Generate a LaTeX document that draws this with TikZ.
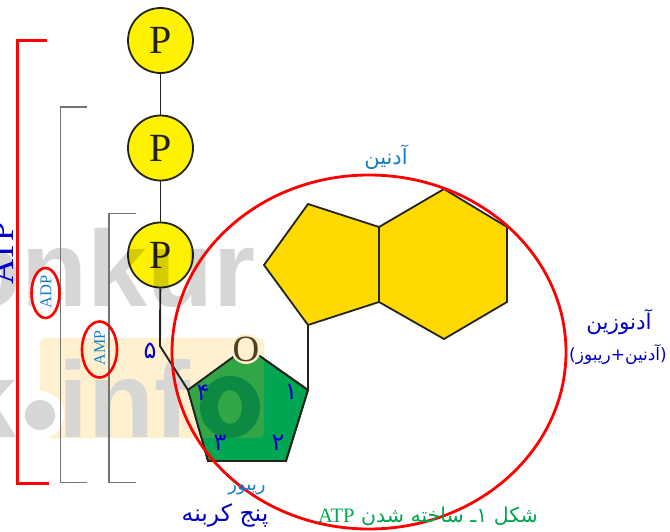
\documentclass[tikz,border=0pt]{standalone}
\usepackage{fontspec}
\setmainfont{Liberation Serif}
\setsansfont{Liberation Sans}
\newfontfamily\fa[Script=Arabic]{DejaVu Sans}
\TeXXeTstate=1
\definecolor{wmgray}{RGB}{214,214,212}
\definecolor{wmyellow}{RGB}{255,241,208}
\definecolor{navyblue}{RGB}{0,0,200}
\definecolor{capblue}{RGB}{20,125,195}
\definecolor{capgreen}{RGB}{0,166,81}
\definecolor{sugar}{RGB}{0,166,81}
\definecolor{sugartint}{RGB}{50,165,70}
\definecolor{sugardark}{RGB}{12,138,68}
\definecolor{base}{RGB}{255,217,0}
\definecolor{phos}{RGB}{255,242,0}
\definecolor{ringline}{RGB}{35,35,30}
\tikzset{
  x=1pt,y=-1pt,
  brk/.style={draw=black!55,line width=1.6pt},
  redbrk/.style={draw=red,line width=2.4pt},
  ring/.style={draw=ringline,line width=1.8pt,line join=miter},
  link/.style={draw=ringline,line width=1.9pt},
  phosnode/.style={circle,draw=ringline,fill=phos,line width=1.8pt,minimum size=65pt,inner sep=0pt,text=ringline,font=\fontsize{40}{40}\selectfont},
  redell/.style={draw=red,line width=2.6pt},
  num/.style={text=navyblue,font=\fa\fontsize{24}{24}\selectfont,inner sep=0pt},
  wm/.style={text=wmgray,font=\sffamily\bfseries\fontsize{108}{108}\selectfont,inner sep=0pt}
}
\begin{document}
\begin{tikzpicture}
\useasboundingbox (0,0) rectangle (670,531);
% watermark under the drawing
\fill[wmyellow,rounded corners=6pt] (40,338) rectangle (264,438);
\node[wm,anchor=base east] (wmk) at (17,437) {k};
\fill[white] (40,415) circle (24);
\fill[wmgray] (40,415) circle (15);
\node[wm,anchor=base west] (wm2) at (58,437) {info};
% sugar
\coordinate (s1) at (308,390);
\coordinate (s2) at (286,461);
\coordinate (s3) at (208,461);
\coordinate (s4) at (188,390);
\coordinate (so) at (247,347);
\coordinate (bend) at (160,346);
\filldraw[ring,fill=sugar] (so) -- (s1) -- (s2) -- (s3) -- (s4) -- cycle;
\begin{scope}
\clip (so) -- (s1) -- (s2) -- (s3) -- (s4) -- cycle;
\fill[sugartint,rounded corners=6pt] (40,338) rectangle (264,438);
\fill[even odd rule,fill=sugardark] (230,407) ellipse (30 and 31) (230,407) ellipse (12 and 17);
\end{scope}
\draw[ring] (so) -- (s1) -- (s2) -- (s3) -- (s4) -- cycle;
\fill[wmyellow] (246,349) circle (15);
\node[text={rgb,255:red,80;green,65;blue,30},font=\fontsize{37}{37}\selectfont,inner sep=0pt] (otxt) at (246,349) {O};
% phosphates
\node[phosnode] (p1) at (160.5,40.5) {P};
\node[phosnode] (p2) at (160.5,148) {P};
\node[phosnode] (p3) at (160.5,255) {P};
\draw[link] (p1) -- (p2);
\draw[link] (p2) -- (p3);
\draw[link] (p3) -- (bend) -- (s4);
% watermark over the drawing
\node[wm,text=black,text opacity=.16,anchor=base west] (wm1) at (-45,306) {onkur};
% base
\coordinate (b1) at (308,325);
\coordinate (b2) at (264,265);
\coordinate (b3) at (308,204);
\coordinate (b4) at (379,227);
\coordinate (b5) at (379,302);
\coordinate (h1) at (444,189);
\coordinate (h2) at (507,227);
\coordinate (h3) at (507,302);
\coordinate (h4) at (444,339);
\filldraw[ring,fill=base] (b1) -- (b2) -- (b3) -- (b4) -- (b5) -- cycle;
\filldraw[ring,fill=base] (b4) -- (h1) -- (h2) -- (h3) -- (h4) -- (b5) -- cycle;
\draw[link] (s1) -- (b1);
% brackets
\draw[redbrk] (47,40.5) -- (17.5,40.5) -- (17.5,483.5) -- (49,483.5);
\draw[brk] (87,107) -- (60.5,107) -- (60.5,482.5) -- (87,482.5);
\draw[brk] (136,213.5) -- (109,213.5) -- (109,482.5) -- (136,482.5);
% ellipses
\draw[redell,fill=white] (45.5,293) ellipse (14 and 25);
\draw[redell] (99.5,349.5) ellipse (17.5 and 28);
\draw[draw=red,line width=2.8pt] (369,352) ellipse (197 and 177);
% labels
\node[rotate=90,text=navyblue,font=\fontsize{35}{35}\selectfont,inner sep=0pt] (atp) at (2,253) {ATP};
\node[rotate=90,text=capblue,font=\fontsize{16.5}{16.5}\selectfont,inner sep=0pt] (adp) at (46,292) {ADP};
\node[rotate=90,text=capblue,font=\fontsize{16}{16}\selectfont,inner sep=0pt] (amp) at (99.5,348) {AMP};
\node[num] (n5) at (150,351) {\beginR ۵\endR};
\node[num] (n4) at (203,393) {\beginR ۴\endR};
\node[num] (n3) at (220,443) {\beginR ۳\endR};
\node[num] (n2) at (278,443) {\beginR ۲\endR};
\node[num] (n1) at (291,392) {\beginR ۱\endR};
\node[text=capblue,font=\fa\fontsize{21}{21}\selectfont,inner sep=0pt] (adenine) at (386,157) {\beginR آدنین\endR};
\node[text=navyblue,font=\fa\fontsize{21.5}{21.5}\selectfont,inner sep=0pt] (adenosine) at (619,322) {\beginR آدنوزین\endR};
\node[text=navyblue,font=\fa\fontsize{17}{17}\selectfont,inner sep=0pt] (adnote) at (618,355) {\beginR (آدنین+ریبوز)\endR};
\node[text=capblue,font=\fa\fontsize{18}{18}\selectfont,inner sep=0pt] (ribose) at (247,489) {\beginR ریبوز\endR};
\node[text=navyblue,font=\fa\fontsize{23.5}{23.5}\selectfont,inner sep=0pt] (five) at (225,515) {\beginR پنج کربنه\endR};
\node[text=capgreen,font=\fa\fontsize{20.5}{20.5}\selectfont,inner sep=0pt] (cap) at (428,516) {\beginR شکل ۱ـ ساخته شدن \beginL{\rmfamily ATP}\endL\endR};
\end{tikzpicture}
\end{document}
